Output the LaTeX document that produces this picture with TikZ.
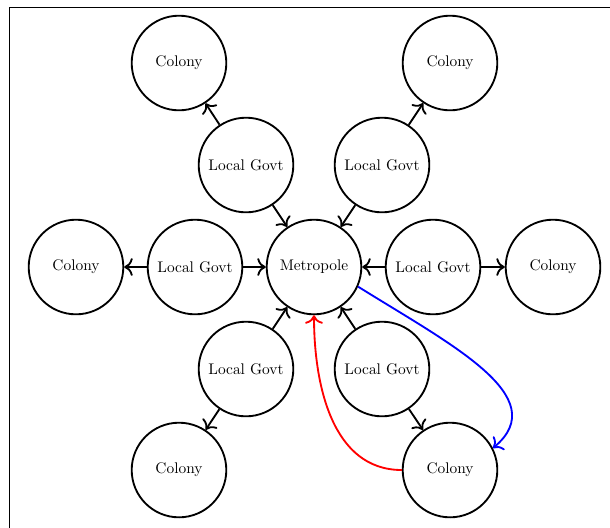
\documentclass[tikz,border=0pt]{standalone}
\usetikzlibrary{arrows.meta}
\begin{document}
\begin{tikzpicture}[x=0.65pt,y=-0.65pt,
  unit/.style={circle,draw,line width=1.2pt,minimum size=61.5pt,inner sep=0pt},
  link/.style={-{To[scale=1.3]},line width=1.2pt},
]
\useasboundingbox (0,0) rectangle (610,527);
\clip (0,0) rectangle (610,527);
% surrounding frame
\draw[line width=0.5pt] (9,540) -- (9,7) -- (620,7);

% centre
\node[unit] (m) at (314,267) {Metropole};

% local governments
\node[unit] (lw)  at (195,267) {Local Govt};
\node[unit] (le)  at (433,267) {Local Govt};
\node[unit] (lnw) at (246,165) {Local Govt};
\node[unit] (lne) at (382,165) {Local Govt};
\node[unit] (lsw) at (246,369) {Local Govt};
\node[unit] (lse) at (382,369) {Local Govt};

% colonies
\node[unit] (cw)  at (76,267)  {Colony};
\node[unit] (ce)  at (553,267) {Colony};
\node[unit] (cnw) at (179,63)  {Colony};
\node[unit] (cne) at (450,63)  {Colony};
\node[unit] (csw) at (179,470) {Colony};
\node[unit] (cse) at (450,470) {Colony};

% local governments report to the metropole
\foreach \l in {lw,le,lnw,lne,lsw,lse}
  \draw[link] (\l) -- (m);

% local governments oversee their colonies
\draw[link] (lw)  -- (cw);
\draw[link] (le)  -- (ce);
\draw[link] (lnw) -- (cnw);
\draw[link] (lne) -- (cne);
\draw[link] (lsw) -- (csw);
\draw[link] (lse) -- (cse);

% direct links between metropole and one colony
\draw[link,blue] (m.-24) to[out=-32,in=40,out distance=71pt,in distance=52pt] (cse.27);
\draw[link,red] (cse.west) to[out=180,in=-90] (m.south);
\end{tikzpicture}
\end{document}
